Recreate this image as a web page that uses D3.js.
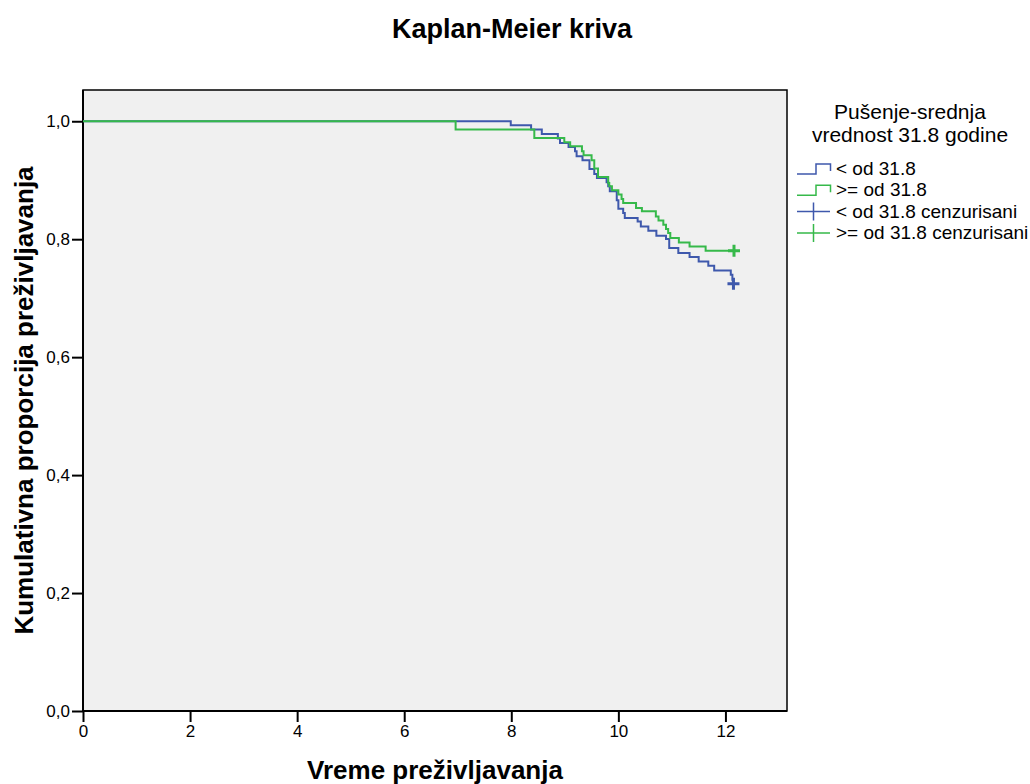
<!DOCTYPE html>
<html>
<head>
<meta charset="utf-8">
<script src="https://cdn.jsdelivr.net/npm/d3@7"></script>
<style>
  body { margin: 0; background: #fff; }
  text { font-family: "Liberation Sans", Arial, sans-serif; fill: #000; }
</style>
</head>
<body>
<svg id="chart" width="1030" height="784"></svg>
<script>
// Kaplan-Meier steps: event times and survival after each event
const ltTimes = [0, 7.99, 8.37, 8.57, 8.87, 8.91, 9.07, 9.19, 9.22, 9.33, 9.46, 9.55, 9.60, 9.78, 9.81, 9.84,
  9.97, 10.00, 10.09, 10.12, 10.36, 10.42, 10.56, 10.71, 10.89, 10.95, 11.12, 11.33, 11.50, 11.68, 11.79,
  12.10, 12.13, 12.14];
const ltSurv = [1.0, 0.9932, 0.9859, 0.9786, 0.9706, 0.9633, 0.9565, 0.9491, 0.9406, 0.9338, 0.9192, 0.9107,
  0.9039, 0.8964, 0.8896, 0.8812, 0.8659, 0.8518, 0.8445, 0.8360, 0.8302, 0.8217, 0.8144, 0.8059, 0.8003,
  0.7851, 0.7766, 0.7698, 0.7623, 0.7550, 0.7470, 0.7397, 0.7312, 0.7245];
const ltCensor = [12.15];

const geTimes = [0, 6.96, 8.43, 8.99, 9.10, 9.32, 9.35, 9.50, 9.55, 9.62, 9.81, 9.83, 9.88, 10.00, 10.06,
  10.09, 10.33, 10.44, 10.70, 10.75, 10.84, 10.89, 10.93, 10.97, 11.13, 11.33, 11.63];
const geSurv = [1.0, 0.9859, 0.9718, 0.9643, 0.9576, 0.9491, 0.9423, 0.9338, 0.9197, 0.9056, 0.8954, 0.8896,
  0.8829, 0.8756, 0.8683, 0.8615, 0.8530, 0.8472, 0.8387, 0.8319, 0.8246, 0.8173, 0.8105, 0.8020, 0.7946,
  0.7878, 0.7805];
const geCensor = [12.16];

const xTicks = [0, 2, 4, 6, 8, 10, 12];
const yTicks = [0, 0.2, 0.4, 0.6, 0.8, 1.0];
const legendLabels = ["< od 31.8", ">= od 31.8", "< od 31.8 cenzurisani", ">= od 31.8 cenzurisani"];

const blue = "#3e58ac";
const green = "#36b94a";

const svg = d3.select("#chart");
const plotL = 83, plotR = 787, plotT = 90, plotB = 711;

const x = d3.scaleLinear().domain([0, 13.15]).range([plotL, plotR]);
const y = d3.scaleLinear().domain([0, 1.053]).range([plotB, plotT]);

svg.append("rect")
  .attr("x", plotL).attr("y", plotT)
  .attr("width", plotR - plotL).attr("height", plotB - plotT)
  .attr("fill", "#f0f0f0")
  .attr("stroke", "#000").attr("stroke-width", 1.5);

const fmt = d => d3.format(".1f")(d).replace(".", ",");

const yAxis = svg.append("g")
  .attr("transform", `translate(${plotL},0)`)
  .call(d3.axisLeft(y).tickValues(yTicks).tickFormat(fmt).tickSize(11).tickPadding(2));
const xAxis = svg.append("g")
  .attr("transform", `translate(0,${plotB})`)
  .call(d3.axisBottom(x).tickValues(xTicks).tickSize(11).tickPadding(3));

[xAxis, yAxis].forEach(g => {
  g.select(".domain").remove();
  g.selectAll("line").attr("stroke", "#000").attr("stroke-width", 2);
  g.selectAll("text").style("font-size", "17px").attr("fill", "#000");
});

// axis base lines, a bit heavier
svg.append("line").attr("x1", plotL).attr("x2", plotR).attr("y1", plotB).attr("y2", plotB)
  .attr("stroke", "#000").attr("stroke-width", 2);
svg.append("line").attr("x1", plotL).attr("x2", plotL).attr("y1", plotT).attr("y2", plotB)
  .attr("stroke", "#000").attr("stroke-width", 2);

const stepLine = d3.line()
  .x(d => x(d[0]))
  .y(d => y(d[1]))
  .curve(d3.curveStepAfter);

const series = [
  { times: ltTimes, surv: ltSurv, censor: ltCensor, color: blue },
  { times: geTimes, surv: geSurv, censor: geCensor, color: green }
];

series.forEach(s => {
  const pts = s.times.map((t, i) => [t, s.surv[i]]);
  const last = s.surv[s.surv.length - 1];
  pts.push([d3.max(s.censor), last]);
  svg.append("path")
    .attr("d", stepLine(pts))
    .attr("fill", "none")
    .attr("stroke", s.color)
    .attr("stroke-width", 2);
});

series.forEach(s => {
  const last = s.surv[s.surv.length - 1];
  s.censor.forEach(t => {
    const cx = x(t), cy = y(last);
    svg.append("path")
      .attr("d", `M${cx - 6},${cy}H${cx + 6}M${cx},${cy - 6}V${cy + 6}`)
      .attr("stroke", s.color)
      .attr("stroke-width", 3);
  });
});

// titles
svg.append("text")
  .attr("x", 512).attr("y", 38)
  .attr("text-anchor", "middle")
  .style("font-size", "27px").style("font-weight", "bold")
  .text("Kaplan-Meier kriva");

svg.append("text")
  .attr("x", (plotL + plotR) / 2).attr("y", 779)
  .attr("text-anchor", "middle")
  .style("font-size", "26px").style("font-weight", "bold")
  .text("Vreme preživljavanja");

svg.append("text")
  .attr("transform", `translate(33,${(plotT + plotB) / 2}) rotate(-90)`)
  .attr("text-anchor", "middle")
  .style("font-size", "26px").style("font-weight", "bold")
  .text("Kumulativna proporcija preživljavanja");

// legend
const legend = svg.append("g");
legend.append("text")
  .attr("x", 910).attr("y", 119)
  .attr("text-anchor", "middle").style("font-size", "21px")
  .text("Pušenje-srednja");
legend.append("text")
  .attr("x", 910).attr("y", 142)
  .attr("text-anchor", "middle").style("font-size", "21px")
  .text("vrednost 31.8 godine");

const legendColors = [blue, green, blue, green];
legendLabels.forEach((label, i) => {
  const ly = 169 + i * 21.3;
  if (i < 2) {
    legend.append("path")
      .attr("d", `M797,${ly + 5}H816V${ly - 5}H830.5V${ly + 2}`)
      .attr("fill", "none").attr("stroke", legendColors[i]).attr("stroke-width", 1.5);
  } else {
    legend.append("path")
      .attr("d", `M797,${ly}H830M813.5,${ly - 9}V${ly + 9}`)
      .attr("fill", "none").attr("stroke", legendColors[i]).attr("stroke-width", 1.5);
  }
  legend.append("text")
    .attr("x", 836).attr("y", ly + 6)
    .style("font-size", "19px")
    .text(label);
});
</script>
</body>
</html>
